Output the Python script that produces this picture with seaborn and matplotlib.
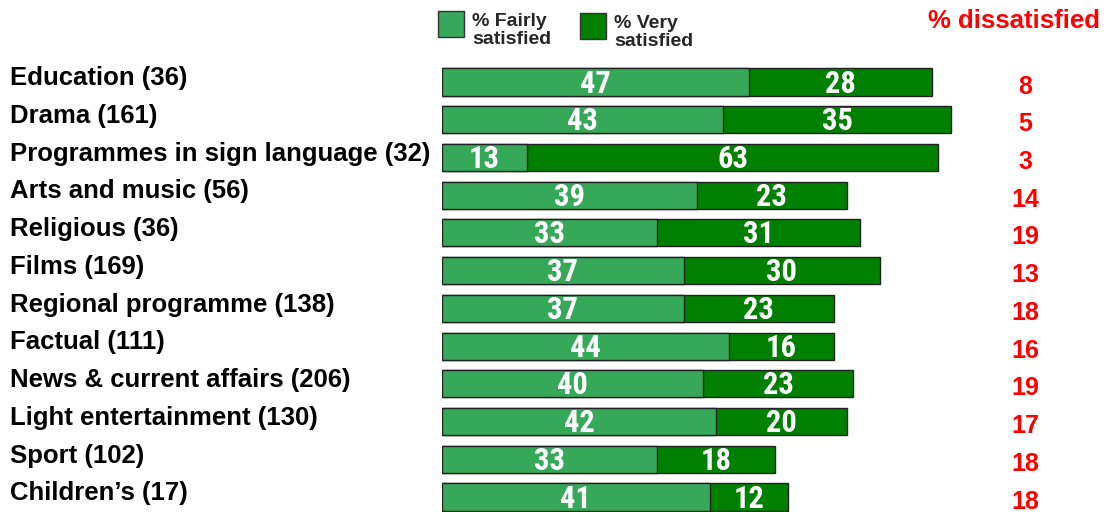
import matplotlib
matplotlib.use("Agg")
import matplotlib.pyplot as plt
from matplotlib import font_manager
from matplotlib.patches import Rectangle
import seaborn as sns
import pandas as pd

categories = [
    "Education (36)", "Drama (161)", "Programmes in sign language (32)",
    "Arts and music (56)", "Religious (36)", "Films (169)",
    "Regional programme (138)", "Factual (111)", "News & current affairs (206)",
    "Light entertainment (130)", "Sport (102)", "Children\u2019s (17)",
]
fairly = [47, 43, 13, 39, 33, 37, 37, 44, 40, 42, 33, 41]
very = [28, 35, 63, 23, 31, 30, 23, 16, 23, 20, 18, 12]
dissatisfied = [8, 5, 3, 14, 19, 13, 18, 16, 19, 17, 18, 18]

LIGHT = "#36A85A"
DARK = "#008000"
RED = "#FF0000"

df = pd.DataFrame({"cat": categories, "fairly": fairly, "very": very})
df["total"] = df["fairly"] + df["very"]

sns.set_theme(style="white")
plt.rcParams["font.family"] = ["Liberation Sans", "DejaVu Sans"]

# condensed face for the in-bar numbers, if one is installed
installed = {f.name for f in font_manager.fontManager.ttflist}
narrow_face = next((n for n in ["Liberation Sans Narrow", "Roboto Condensed",
                                "Arial Narrow", "DejaVu Sans Condensed"]
                    if n in installed), None)
if narrow_face:
    num_family, num_size = [narrow_face, "DejaVu Sans"], 22
else:
    num_family, num_size = ["Liberation Sans", "DejaVu Sans"], 20

W, H = 1113, 512
fig = plt.figure(figsize=(W / 100, H / 100), dpi=100)

# plot area: bars start at x=442 px, 6.53 px per percentage point
x0 = 442
ppu = 6.53
ax = fig.add_axes([x0 / W, 0, 1 - x0 / W, 1])

sns.barplot(data=df, y="cat", x="total", orient="h", color=DARK,
            edgecolor="#222222", linewidth=1, width=0.72, saturation=1,
            ax=ax, order=categories)
sns.barplot(data=df, y="cat", x="fairly", orient="h", color=LIGHT,
            edgecolor="#222222", linewidth=1, width=0.72, saturation=1,
            ax=ax, order=categories)

row = 37.73
top_c, bot_c = 82, 497
ax.set_xlim(0, (W - x0) / ppu)
ax.set_ylim(len(categories) - 1 + (H - bot_c) / row, -top_c / row)

cont_fairly = ax.containers[1]
for i, bf in enumerate(cont_fairly):
    yc = bf.get_y() + bf.get_height() / 2
    ax.text(fairly[i] / 2, yc + 0.04, str(fairly[i]), ha="center", va="center",
            color="white", fontsize=num_size, fontweight="bold",
            family=num_family)
    ax.text(fairly[i] + very[i] / 2, yc + 0.04, str(very[i]), ha="center",
            va="center", color="white", fontsize=num_size, fontweight="bold",
            family=num_family)
    # dissatisfied share on the right
    ax.text((1025 - x0) / ppu, yc + 0.12, str(dissatisfied[i]), ha="center",
            va="center", color=RED, fontsize=18, fontweight="bold")
    # category label on the left
    ax.text(-(x0 - 10) / ppu, yc - 0.1, categories[i], ha="left", va="center",
            color="black", fontsize=18.5, fontweight="bold", clip_on=False)

ax.axis("off")


def fx(px):
    return px / W


def fy(py):
    return 1 - py / H


# legend
for (lx, ly, col, l1, l2) in [(438, 11, LIGHT, "% Fairly", "satisfied"),
                               (580, 13, DARK, "% Very", "satisfied")]:
    fig.patches.append(Rectangle((fx(lx), fy(ly + 26)), 26 / W, 26 / H,
                                 transform=fig.transFigure, facecolor=col,
                                 edgecolor="#333333", linewidth=1))
    fig.text(fx(lx + 34), fy(ly + 10), l1, ha="left", va="center",
             fontsize=14, fontweight="bold")
    fig.text(fx(lx + 34), fy(ly + 29), l2, ha="left", va="center",
             fontsize=14, fontweight="bold")

fig.text(fx(1014), fy(21), "% dissatisfied", ha="center", va="center",
         color=RED, fontsize=18.5, fontweight="bold")

fig.savefig("out.png", dpi=100, facecolor="white")
